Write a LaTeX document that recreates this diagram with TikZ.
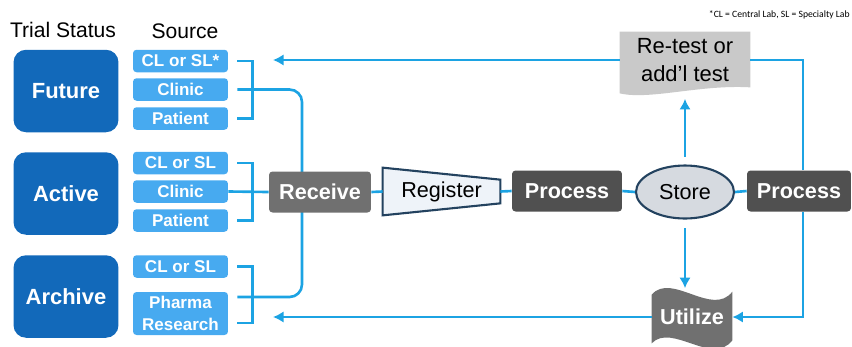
\documentclass[tikz,border=0pt]{standalone}
\usepackage{fontspec}
\setmainfont{Liberation Sans}
\newfontfamily\notefont{Carlito}
\usepackage{tikz}
\usetikzlibrary{arrows.meta,positioning,calc,shapes.geometric,backgrounds}
\definecolor{statusblue}{HTML}{1269BA}
\definecolor{sourceblue}{HTML}{47AAF0}
\definecolor{linkblue}{HTML}{1CA3E3}
\definecolor{stepgray}{HTML}{707070}
\definecolor{stepdark}{HTML}{505050}
\definecolor{storefill}{HTML}{D6DAE0}
\definecolor{navyedge}{HTML}{23425F}
\definecolor{regfill}{HTML}{EEF3F9}
\definecolor{retestgray}{HTML}{C9C9C9}

\begin{document}
\begin{tikzpicture}[
  x=0.02cm, y=-0.02cm,
  head/.style={inner sep=0pt, font=\fontsize{12}{14}\selectfont},
  status/.style={fill=statusblue, rounded corners=0.25cm, minimum width=2.1cm, minimum height=1.65cm, text=white, font=\fontsize{12.5}{14}\selectfont\bfseries},
  source/.style={fill=sourceblue, rounded corners=2pt, minimum width=1.9cm, minimum height=0.45cm, inner sep=0pt, text=white, align=center, font=\fontsize{9.7}{12.5}\selectfont\bfseries},
  stepbox/.style={fill=stepgray, rounded corners=2pt, minimum height=0.82cm, inner sep=0pt, text=white, font=\fontsize{12.3}{14}\selectfont\bfseries},
  plain/.style={inner sep=0pt, font=\fontsize{12.3}{16}\selectfont, align=center},
  link/.style={draw=linkblue, line width=1.5pt},
  arrow/.style={link, -{Latex[length=6pt,width=6.5pt]}}
]
\useasboundingbox (0,0) rectangle (852,346);

% headings and note
\node[head] (hstatus) at (63,30) {Trial Status};
\node[head] (hsource) at (185,31) {Source};
\node[inner sep=0pt, anchor=east, font=\notefont\fontsize{5.5}{6}\selectfont] (note) at (850,15) {*CL = Central Lab, SL = Specialty Lab};

% trial status
\node[status] (future) at (66,91) {Future};
\node[status] (active) at (66,193.5) {Active};
\node[status] (archive) at (66,296.5) {Archive};

% sources
\node[source] (fcl) at (180.5,61) {CL or SL*};
\node[source] (fclin) at (180.5,89.5) {Clinic};
\node[source] (fpat) at (180.5,118.5) {Patient};
\node[source] (acl) at (180.5,163) {CL or SL};
\node[source] (aclin) at (180.5,191.5) {Clinic};
\node[source] (apat) at (180.5,220.5) {Patient};
\node[source] (rcl) at (180.5,266.5) {CL or SL};
\node[source, minimum height=0.86cm] (rpha) at (180.5,313.5) {Pharma\\Research};

% flow
\node[stepbox, minimum width=2.04cm] (rcv) at (320,192) {Receive};
\node[plain, minimum width=2.34cm, minimum height=0.94cm] (reg) at (441.5,191.5) {Register};
\node[stepbox, fill=stepdark, minimum width=2.2cm] (p1) at (567,191) {Process};
\node[ellipse, draw=navyedge, line width=1.2pt, fill=storefill, minimum width=1.96cm, minimum height=1.06cm, plain] (store) at (685,192) {Store};
\node[stepbox, fill=stepdark, minimum width=2.08cm] (p2) at (799,191) {Process};
\node[plain, minimum width=2.6cm, minimum height=1.12cm, font=\fontsize{12.5}{16}\selectfont] (retest) at (685,60) {Re-test or\\add'l test};
\node[stepbox, rounded corners=0pt, minimum width=1.6cm, minimum height=1cm, fill=none] (util) at (692,317) {Utilize};

\coordinate (spine) at (302,192);
\coordinate (topin) at (273,60);
\coordinate (botin) at (273,317);

\begin{scope}[on background layer]
\draw[link, rounded corners=0.25cm] ($(fclin.east)+(9,0)$) -| (spine) |- ($(rpha.east)+(9,-16.5)$);
\draw[draw=navyedge, line width=1.2pt, fill=regfill] (reg.north west) -- ($(reg.north east)+(0,12)$) -- ($(reg.south east)+(0,-12)$) -- (reg.south west) -- cycle;
\fill[retestgray] (retest.north west) -- (retest.north east) -- ($(retest.south east)+(0,-1)$)
  .. controls ($(retest.south east)+(-50,-4)$) and ($(retest.south west)+(30,12)$) .. ($(retest.south west)+(0,5)$) -- cycle;
\fill[stepgray] ($(util.north west)+(0,3)$) .. controls ($(util.north west)+(20,-20)$) and ($(util.north east)+(-20,26)$) .. (util.north east)
  -- ($(util.south east)+(0,-2)$) .. controls ($(util.south east)+(-20,24)$) and ($(util.south west)+(20,-20)$) .. ($(util.south west)+(0,1)$) -- cycle;
\end{scope}

% brackets
\draw[link] ($(fcl.east)+(9,0)$) -| ($(fpat.east)+(24,0)$) -- ($(fpat.east)+(9,0)$);
\draw[link] ($(acl.east)+(9,0)$) -| ($(apat.east)+(24,0)$) -- ($(apat.east)+(9,0)$);
\draw[link] ($(rcl.east)+(9,0)$) -| ($(rpha.east)+(24,9.5)$) -- ($(rpha.east)+(9,9.5)$);
\draw[link] (aclin.east) -- (rcv.west);

% main line
\draw[link] (rcv.east) -- (reg.west);
\draw[link] (reg.east) -- (p1.west);
\draw[link] (p1.east) -- (store.west);
\draw[link] (store.east) -- (p2.west);

% loops
\draw[link] ($(p2.north)+(4,0)$) |- (retest.east);
\draw[arrow] (retest.west) -- (topin);
\draw[arrow, shorten <=4.5pt, shorten >=6pt] (store.north) -- (retest.south);
\draw[arrow, shorten <=5pt, shorten >=2pt] (store.south) -- (store.south |- util.north);
\draw[arrow] ($(p2.south)+(4,0)$) |- (util.east);
\draw[arrow] (util.west) -- (botin);
\end{tikzpicture}
\end{document}
